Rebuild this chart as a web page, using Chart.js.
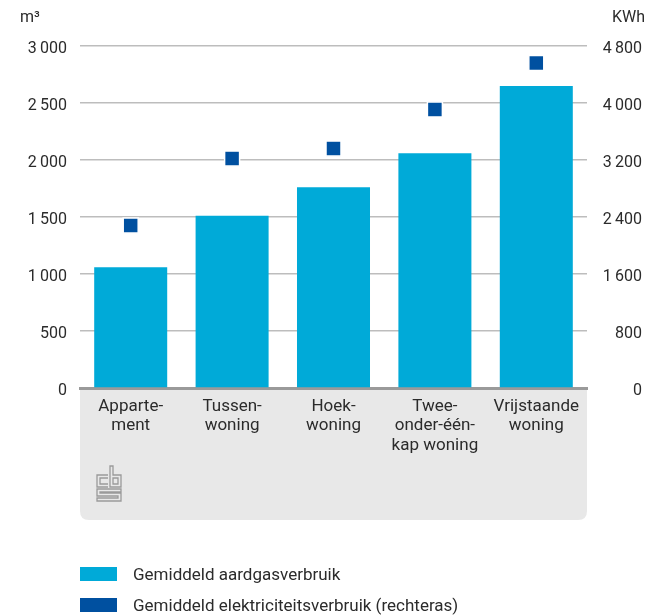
<!DOCTYPE html>
<html>
<head>
<meta charset="utf-8">
<script src="https://cdn.jsdelivr.net/npm/chart.js@4"></script>
<style>
  html, body { margin: 0; padding: 0; background: #fff; }
  .wrap { position: relative; width: 663px; height: 616px; font-family: Roboto, sans-serif; color: #2b2b2b; }
  .wrap canvas { position: absolute; left: 0; top: 0; }
  .legend { position: absolute; left: 80px; top: 558px; font-size: 17px; }
  .legend div { display: flex; align-items: center; height: 31px; }
  .legend span.box { display: inline-block; width: 37px; height: 14px; margin-right: 16px; }
</style>
</head>
<body>
<div class="wrap">
  <canvas id="energyChart" width="663" height="616"></canvas>
  <div class="legend">
    <div><span class="box" style="background:#00aad8"></span>Gemiddeld aardgasverbruik</div>
    <div><span class="box" style="background:#0050a0"></span>Gemiddeld elektriciteitsverbruik (rechteras)</div>
  </div>
</div>
<script>
// data
const woningTypes = [
  ['Apparte-', 'ment'],
  ['Tussen-', 'woning'],
  ['Hoek-', 'woning'],
  ['Twee-', 'onder-één-', 'kap woning'],
  ['Vrijstaande', 'woning']
];
const aardgas = [1060, 1510, 1760, 2060, 2650];      // m3, left axis
const elektriciteit = [2280, 3220, 3360, 3910, 4560]; // KWh, right axis
const gasTicks = [0, 500, 1000, 1500, 2000, 2500, 3000];
const stroomTicks = [0, 800, 1600, 2400, 3200, 4000, 4800];

const GAS = '#00aad8';
const STROOM = '#0050a0';
const TEXT = '#2b2b2b';

function fmt(v) {
  return String(v).replace(/\B(?=(\d{3})+(?!\d))/g, '\u2009');
}

// gray panel under the x axis, unit labels and cbs logo
const decor = {
  id: 'decor',
  beforeDraw(chart) {
    const { ctx, chartArea } = chart;
    const l = chartArea.left, r = chartArea.right, t = chartArea.bottom, b = 520, rad = 9;
    ctx.save();
    ctx.fillStyle = '#e8e8e8';
    ctx.beginPath();
    ctx.moveTo(l, t);
    ctx.lineTo(r, t);
    ctx.lineTo(r, b - rad);
    ctx.quadraticCurveTo(r, b, r - rad, b);
    ctx.lineTo(l + rad, b);
    ctx.quadraticCurveTo(l, b, l, b - rad);
    ctx.closePath();
    ctx.fill();

    // cbs logo, rough
    ctx.strokeStyle = '#9a9a9a';
    ctx.lineWidth = 1.3;
    const x0 = 97, y0 = 466;
    ctx.beginPath();
    // c
    ctx.moveTo(x0 + 11, y0 + 9); ctx.lineTo(x0, y0 + 9); ctx.lineTo(x0, y0 + 21); ctx.lineTo(x0 + 11, y0 + 21);
    ctx.moveTo(x0 + 11, y0 + 12); ctx.lineTo(x0 + 3, y0 + 12); ctx.lineTo(x0 + 3, y0 + 18); ctx.lineTo(x0 + 11, y0 + 18);
    // b
    ctx.moveTo(x0 + 13, y0); ctx.lineTo(x0 + 13, y0 + 21); ctx.lineTo(x0 + 24, y0 + 21); ctx.lineTo(x0 + 24, y0 + 9);
    ctx.lineTo(x0 + 16, y0 + 9); ctx.lineTo(x0 + 16, y0); ctx.closePath();
    ctx.rect(x0 + 16, y0 + 12, 5, 6);
    // S
    ctx.moveTo(x0 + 24, y0 + 23); ctx.lineTo(x0, y0 + 23); ctx.lineTo(x0, y0 + 30); ctx.lineTo(x0 + 21, y0 + 30);
    ctx.lineTo(x0 + 21, y0 + 32); ctx.lineTo(x0, y0 + 32); ctx.lineTo(x0, y0 + 35); ctx.lineTo(x0 + 24, y0 + 35);
    ctx.lineTo(x0 + 24, y0 + 27); ctx.lineTo(x0 + 3, y0 + 27); ctx.lineTo(x0 + 3, y0 + 26); ctx.lineTo(x0 + 24, y0 + 26);
    ctx.closePath();
    ctx.stroke();

    // unit labels
    ctx.fillStyle = TEXT;
    ctx.font = '16px Roboto, sans-serif';
    ctx.textBaseline = 'middle';
    ctx.textAlign = 'left';
    ctx.fillText('m\u00b3', 20, 18);
    ctx.textAlign = 'right';
    ctx.fillText('KWh', 645, 18);
    ctx.restore();
  }
};

new Chart(document.getElementById('energyChart'), {
  type: 'bar',
  data: {
    labels: woningTypes,
    datasets: [
      {
        type: 'line',
        label: 'Gemiddeld elektriciteitsverbruik (rechteras)',
        data: elektriciteit,
        yAxisID: 'y2',
        showLine: false,
        pointStyle: 'rect',
        pointRadius: 10.6,
        pointBackgroundColor: STROOM,
        pointBorderColor: '#fff',
        pointBorderWidth: 1.5,
        order: 0
      },
      {
        label: 'Gemiddeld aardgasverbruik',
        data: aardgas,
        yAxisID: 'y',
        backgroundColor: GAS,
        categoryPercentage: 1,
        barPercentage: 0.72,
        order: 1
      }
    ]
  },
  options: {
    responsive: false,
    animation: false,
    layout: { padding: { top: 46, right: 21, left: 0, bottom: 0 } },
    plugins: {
      legend: { display: false },
      tooltip: { enabled: false }
    },
    scales: {
      x: {
        grid: { display: false },
        border: { color: '#9a9a9a', width: 3 },
        ticks: {
          color: TEXT,
          font: { family: 'Roboto, sans-serif', size: 17, lineHeight: 1.14 },
          padding: 1,
          maxRotation: 0
        },
        afterFit(scale) { scale.height = 616 - 388; }
      },
      y: {
        position: 'left',
        min: 0,
        max: 3000,
        afterBuildTicks(scale) { scale.ticks = gasTicks.map(v => ({ value: v })); },
        grid: { color: '#bdbdbd', lineWidth: 1.5, drawTicks: false },
        border: { display: false },
        ticks: {
          color: TEXT,
          font: { family: 'Roboto, sans-serif', size: 16 },
          padding: 13,
          labelOffset: 3,
          callback: v => fmt(v)
        },
        afterFit(scale) { scale.width = 80; }
      },
      y2: {
        position: 'right',
        min: 0,
        max: 4800,
        afterBuildTicks(scale) { scale.ticks = stroomTicks.map(v => ({ value: v })); },
        grid: { display: false },
        border: { display: false },
        ticks: {
          color: TEXT,
          font: { family: 'Roboto, sans-serif', size: 16 },
          crossAlign: 'far',
          padding: 10,
          labelOffset: 3,
          callback: v => fmt(v)
        },
        afterFit(scale) { scale.width = 55; }
      }
    }
  },
  plugins: [decor]
});
</script>
</body>
</html>
